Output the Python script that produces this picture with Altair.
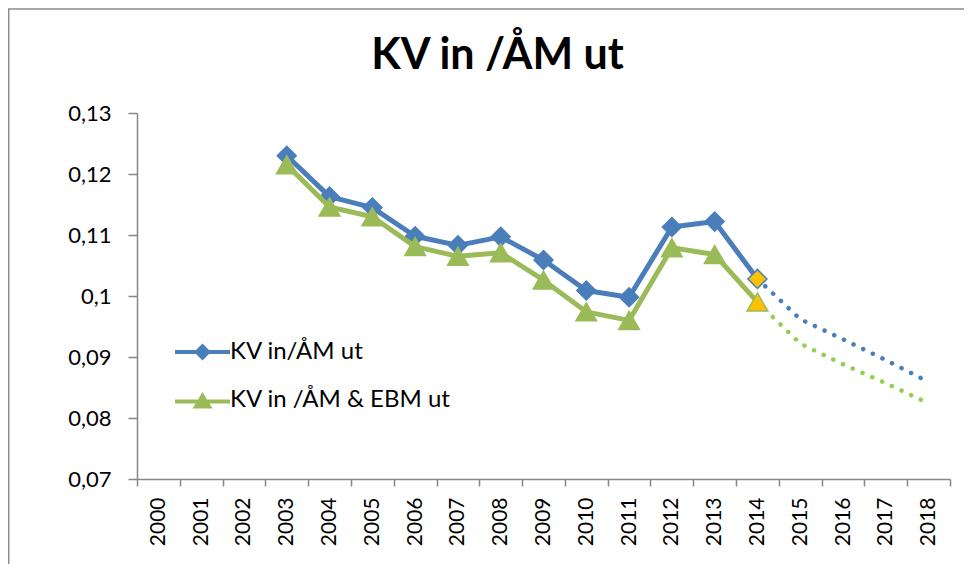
import altair as alt
import pandas as pd

years = [str(y) for y in range(2000, 2019)]
series_names = ["KV in/ÅM ut", "KV in /ÅM & EBM ut"]
N = None
blue_actual = [N, N, N, 0.1230, 0.1163, 0.1145, 0.1098, 0.1083, 0.1097, 0.1059,
               0.1009, 0.0998, 0.1113, 0.1122, 0.1028, N, N, N, N]
blue_proj = [N] * 14 + [0.1028, 0.0962, 0.0929, 0.0895, 0.0859]
green_actual = [N, N, N, 0.1215, 0.1146, 0.1130, 0.1081, 0.1065, 0.1071, 0.1026,
                0.0974, 0.0960, 0.1079, 0.1068, 0.0990, N, N, N, N]
green_proj = [N] * 14 + [0.0990, 0.0922, 0.0888, 0.0857, 0.0824]
highlight_year = "2014"
y_ticks = [0.07, 0.08, 0.09, 0.10, 0.11, 0.12, 0.13]

BLUE = "#4A7EBB"
GREEN = "#9BBB59"
BLUE_DOT = "#4A7EBB"
GREEN_DOT = "#92D050"
ORANGE = "#FFC000"
AXIS_GRAY = "#868686"
FONT = "Lato"

rows = []
for name, act, proj in [(series_names[0], blue_actual, blue_proj),
                        (series_names[1], green_actual, green_proj)]:
    for yr, v in zip(years, act):
        if v is not None:
            rows.append({"year": yr, "series": name, "kind": "actual", "value": v})
    for yr, v in zip(years, proj):
        if v is not None:
            rows.append({"year": yr, "series": name, "kind": "proj", "value": v})
df = pd.DataFrame(rows)

X = alt.X("year:O",
          scale=alt.Scale(domain=years, type="band", paddingInner=0, paddingOuter=0),
          bandPosition=0.5,
          axis=alt.Axis(title=None, labelAngle=-90, labelAlign="right", labelBaseline="middle",
                        tickBand="extent", tickSize=7, tickWidth=1.5, tickColor=AXIS_GRAY,
                        domainColor=AXIS_GRAY, domainWidth=1.5, labelFont=FONT,
                        labelFontSize=21, labelColor="black", labelPadding=11, grid=False))
Y = alt.Y("value:Q",
          scale=alt.Scale(domain=[0.07, 0.13], nice=False, zero=False),
          axis=alt.Axis(title=None, values=y_ticks,
                        labelExpr="replace(format(datum.value, '.2~f'), '.', ',')",
                        tickSize=9, tickWidth=1.5, tickColor=AXIS_GRAY, domainColor=AXIS_GRAY,
                        domainWidth=1.5, labelFont=FONT, labelFontSize=22, labelColor="black",
                        labelPadding=17, grid=False))

base = alt.Chart(df)

def series_layers(name, color, dot_color, shape, size):
    s = base.transform_filter(alt.datum.series == name)
    proj = s.transform_filter(alt.datum.kind == "proj").mark_line(
        color=dot_color, strokeWidth=4.5, strokeDash=[0.1, 10.6], strokeCap="round"
    ).encode(x=X, y=Y)
    solid = s.transform_filter(alt.datum.kind == "actual").mark_line(
        color=color, strokeWidth=5, strokeJoin="round"
    ).encode(x=X, y=Y)
    pts = s.transform_filter(alt.datum.kind == "actual").mark_point(
        shape=shape, size=size, filled=True, opacity=1, stroke=color, strokeWidth=1.5
    ).encode(
        x=X, y=Y,
        fill=alt.condition(alt.datum.year == highlight_year, alt.value(ORANGE), alt.value(color)),
    )
    return [proj, solid, pts]

path_blue = ("M-1.375,-0.1L1.375,-0.1L1.375,0.1L-1.375,0.1Z "
             "M-0.42,0L0,-0.42L0.42,0L0,0.42Z")
path_green = ("M-1.375,-0.02L1.375,-0.02L1.375,0.18L-1.375,0.18Z "
              "M0,-0.4L0.5,0.42L-0.5,0.42Z")

legend_layer = alt.Chart(pd.DataFrame({"series": series_names})).transform_filter(
    "false"
).mark_point(filled=True, opacity=1).encode(
    shape=alt.Shape("series:N", scale=alt.Scale(domain=series_names, range=[path_blue, path_green]),
                    legend=alt.Legend(title=None)),
    color=alt.Color("series:N", scale=alt.Scale(domain=series_names, range=[BLUE, GREEN]),
                    legend=alt.Legend(title=None)),
)

frame = alt.Chart(alt.Data(values=[{"a": 1}])).mark_rect(
    fillOpacity=0, stroke="#8C8C8C", strokeWidth=1.5
).encode(
    x=alt.value(-128.3), x2=alt.value(2000), y=alt.value(-104.0), y2=alt.value(2000)
)

layers = [frame]
layers += series_layers(series_names[0], BLUE, BLUE_DOT, "diamond", 360)
layers += series_layers(series_names[1], GREEN, GREEN_DOT, "triangle-up", 430)
layers.append(legend_layer)

chart = alt.layer(*layers).properties(
    width=813, height=366,
    autosize=alt.AutoSizeParams(type="none"),
    padding={"left": 129, "top": 105, "right": 14, "bottom": 85},
    title=alt.Title("KV in /ÅM ut", font=FONT, fontSize=43, fontWeight="bold", color="black",
                    anchor="middle", dx=-46, offset=-104, baseline="alphabetic"),
).configure_view(stroke=None).configure_legend(
    orient="none", legendX=45.5, legendY=219, symbolSize=1600, symbolStrokeWidth=0,
    labelFont=FONT, labelFontSize=24, labelColor="black", labelOffset=7.5, rowPadding=16,
    symbolOpacity=1, padding=0, labelLimit=400,
)

chart.save("out.html", embed_options={"renderer": "svg", "actions": False})
